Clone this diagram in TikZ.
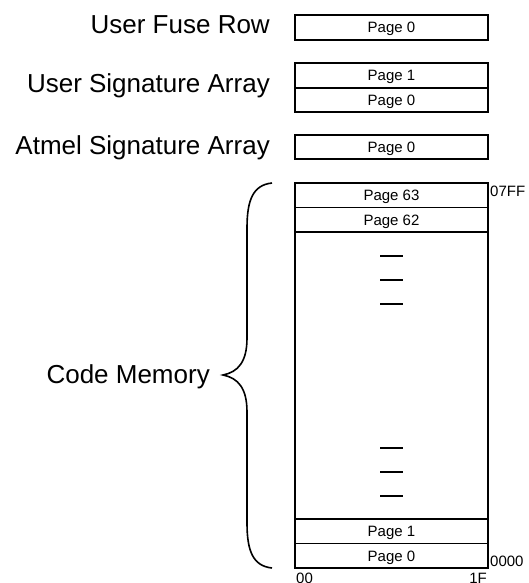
\documentclass[tikz,border=0pt]{standalone}
\usepackage{fontspec}
\setmainfont{Liberation Sans}
\usepackage{tikz}

\tikzset{
  page/.style={draw, line width=1.7pt, minimum width=193pt, minimum height=24.5pt,
    inner sep=0pt, text height=10.7pt, text depth=0pt, font=\fontsize{15}{18}\selectfont},
  area/.style={font=\fontsize{26}{31}\selectfont, inner sep=0pt, anchor=base east},
  addr/.style={font=\fontsize{15}{18}\selectfont, inner sep=0pt}
}

\begin{document}
\begin{tikzpicture}[x=1pt, y=-1pt]
\useasboundingbox (0,0) rectangle (529,583);
% fuse row and signature arrays
\node[page] (fuse0) at (391.5,27.5) {Page 0};
\node[page] (usig1) at (391.5,75.5) {Page 1};
\node[page] (usig0) at (391.5,100) {Page 0};
\node[page] (asig0) at (391.5,147) {Page 0};
% code memory
\node[page] (code63) at (391.5,195.25) {Page 63};
\node[page] (code62) at (391.5,219.75) {Page 62};
\node[page, minimum height=287pt] (codegap) at (391.5,375.5) {};
\node[page] (code1) at (391.5,531.25) {Page 1};
\node[page] (code0) at (391.5,555.75) {Page 0};
\foreach \y in {256,280,304,448,472,496}
  \draw[line width=1.8pt] (380,\y) -- (403,\y);
% addresses
\node[addr, anchor=north west] (top) at (490,185.5) {07FF};
\node[addr, anchor=base west] (bot) at (490,566) {0000};
\node[addr, anchor=north west] (col0) at (296,573) {00};
\node[addr, anchor=north east] (col1f) at (487,573) {1F};
% names
\node[area] (fuse) at (270,33.5) {User Fuse Row};
\node[area] (usig) at (270,93) {User Signature Array};
\node[area] (asig) at (270,154) {Atmel Signature Array};
\node[area] (code) at (210,383) {Code Memory};
\draw[line width=1.6pt] (272,183) .. controls (253,185) and (247,200) .. (247,228)
  -- (247,338) .. controls (247,362) and (238,372) .. (223,375)
  .. controls (238,378) and (247,388) .. (247,412)
  -- (247,523) .. controls (247,551) and (253,566) .. (272,568);
\end{tikzpicture}
\end{document}
